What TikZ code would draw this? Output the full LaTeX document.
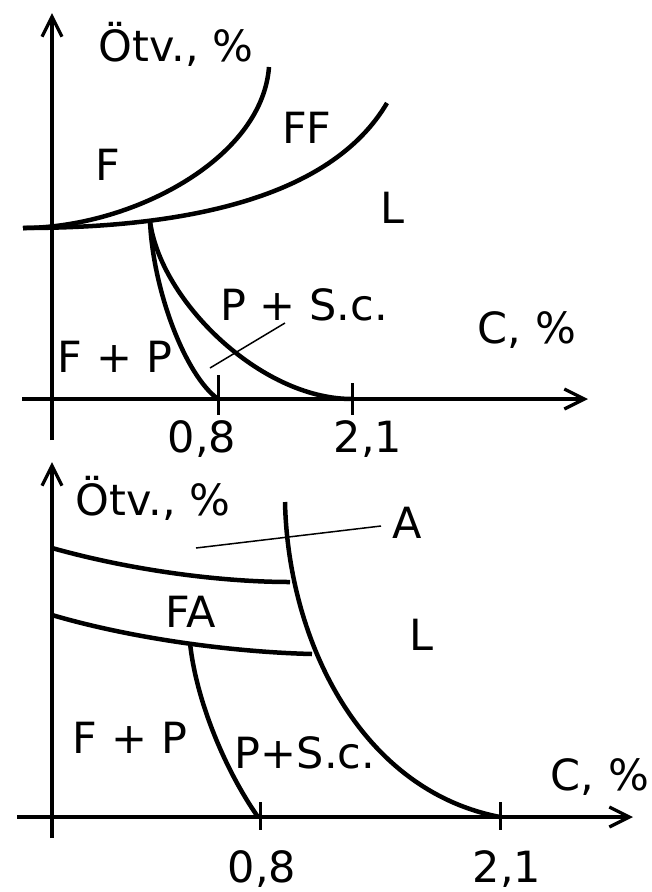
\documentclass[tikz,border=0pt]{standalone}
\usepackage{fontspec}
\setmainfont{DejaVu Sans}
\usetikzlibrary{arrows.meta}
\begin{document}
\begin{tikzpicture}[x=1pt,y=-1pt,
  axis/.style={line width=3.3pt,-{Straight Barb[length=20pt,width=20pt,line width=3.3pt]}},
  curve/.style={line width=4.5pt},
  leader/.style={line width=1.5pt},
  tickmark/.style={line width=3pt},
  lbl/.style={font=\fontsize{43}{43}\selectfont, inner sep=0pt, anchor=base}]
\useasboundingbox (0,0) rectangle (652,892);

% ---------- top diagram ----------
\coordinate (ya1b) at (52,440);
\coordinate (ya1t) at (52,13);
\coordinate (xa1l) at (22,399);
\coordinate (xa1r) at (588,399);
\draw[axis] (ya1b) -- (ya1t);
\draw[axis] (xa1l) -- (xa1r);

\coordinate (s1) at (23,228);
\coordinate (c1e) at (269,67);
\coordinate (c2e) at (387,103);
\coordinate (j1) at (150,221);
\coordinate (p08a) at (218,399);
\coordinate (p21a) at (352,399);
\draw[curve] (s1) .. controls (130,228) and (262,160) .. (c1e);
\draw[curve] (s1) .. controls (180,228) and (330,200) .. (c2e);
\draw[curve] (j1) .. controls (153,290) and (185,375) .. (p08a);
\draw[curve] (j1) .. controls (160,300) and (260,399) .. (p21a);

\coordinate (tk1a) at (218,375); \coordinate (tk1b) at (218,415);
\coordinate (tk2a) at (352,383); \coordinate (tk2b) at (352,415);
\draw[tickmark] (tk1a) -- (tk1b);
\draw[tickmark] (tk2a) -- (tk2b);
\coordinate (ld1a) at (285,323); \coordinate (ld1b) at (210,368);
\draw[leader] (ld1a) -- (ld1b);

\node[lbl] (otv1) at (176,61) {Ötv., \%};
\node[lbl] (f1) at (108,180) {F};
\node[lbl] (ff1) at (307,143) {FF};
\node[lbl] (l1) at (392,223) {L};
\node[lbl] (psc1) at (304,320) {P + S.c.};
\node[lbl] (c1) at (527,343) {C, \%};
\node[lbl] (fp1) at (115,372) {F + P};
\node[lbl] (n081) at (202,452) {0,8};
\node[lbl] (n211) at (368,452) {2,1};

% ---------- bottom diagram ----------
\coordinate (ya2b) at (52,838);
\coordinate (ya2t) at (52,462);
\coordinate (xa2l) at (17,817);
\coordinate (xa2r) at (633,817);
\draw[axis] (ya2b) -- (ya2t);
\draw[axis] (xa2l) -- (xa2r);

\coordinate (u0) at (52,548); \coordinate (u1) at (290,582);
\coordinate (w0) at (52,615); \coordinate (w1) at (312,654);
\coordinate (r0) at (285,502); \coordinate (r1) at (500,817);
\coordinate (q0) at (190,643); \coordinate (q1) at (258,817);
\draw[curve] (u0) .. controls (130,570) and (220,582) .. (u1);
\draw[curve] (w0) .. controls (130,638) and (230,652) .. (w1);
\draw[curve] (r0) .. controls (288,640) and (360,790) .. (r1);
\draw[curve] (q0) .. controls (196,700) and (225,770) .. (q1);

\coordinate (tk3a) at (260,802); \coordinate (tk3b) at (260,830);
\coordinate (tk4a) at (500,802); \coordinate (tk4b) at (500,830);
\draw[tickmark] (tk3a) -- (tk3b);
\draw[tickmark] (tk4a) -- (tk4b);
\coordinate (ld2a) at (196,548); \coordinate (ld2b) at (381,526);
\draw[leader] (ld2a) -- (ld2b);

\node[lbl] (otv2) at (153,515) {Ötv., \%};
\node[lbl] (a2) at (407,538) {A};
\node[lbl] (fa2) at (191,627) {FA};
\node[lbl] (l2) at (421,650) {L};
\node[lbl] (fp2) at (130,753) {F + P};
\node[lbl] (psc2) at (305,768) {P+S.c.};
\node[lbl] (c2) at (600,790) {C, \%};
\node[lbl] (n082) at (262,882) {0,8};
\node[lbl] (n212) at (507,882) {2,1};
\end{tikzpicture}
\end{document}
